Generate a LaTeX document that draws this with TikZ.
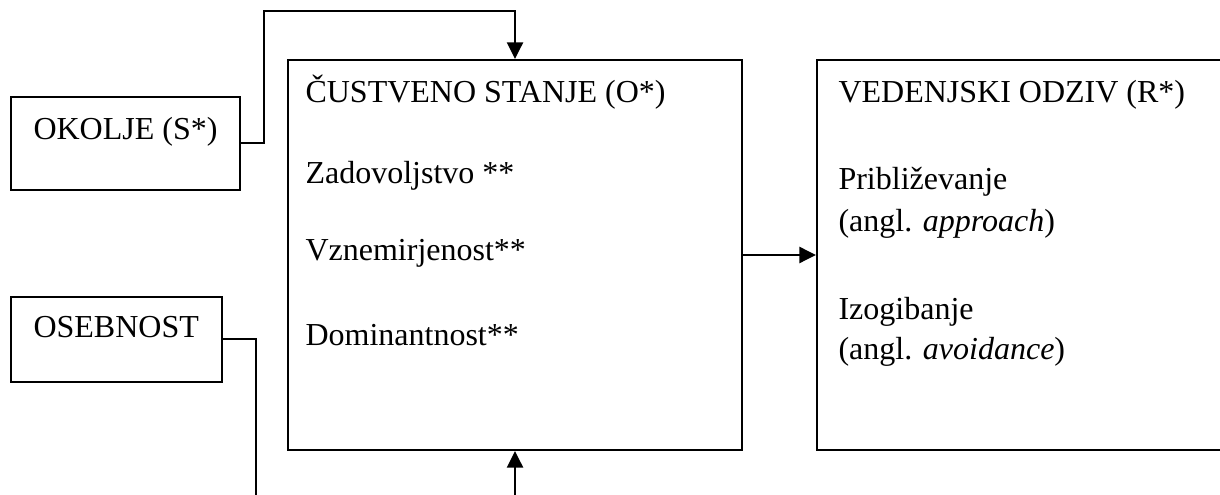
\documentclass[tikz,border=0pt]{standalone}
\usepackage{fontspec}
\setmainfont{Liberation Serif}
\usetikzlibrary{fit,arrows.meta}
\begin{document}
\begin{tikzpicture}[x=0.375pt,y=-0.375pt,
  box/.style={draw,line width=0.75pt,inner sep=0pt},
  txt/.style={anchor=base west,inner sep=0pt,font=\fontsize{12pt}{14pt}\selectfont},
  conn/.style={line width=0.75pt},
  arr/.style={line width=0.75pt,-{Triangle[length=6.2pt,width=6pt]}}]
\useasboundingbox (0,0) rectangle (1220,495);
\clip (0,0) rectangle (1220,495);
% boxes
\node[box,fit={(11,97) (240,190)}] (ok) {};
\node[box,fit={(11,297) (222,382)}] (os) {};
\node[box,fit={(288,60) (742,450)}] (cu) {};
\node[box,fit={(817,60) (1260,450)}] (ve) {};
% texts
\node[txt] (tok) at (33,140) {OKOLJE (S*)};
\node[txt] (tos) at (33,338) {OSEBNOST};
\node[txt] (tcu) at (305,103) {ČUSTVENO STANJE (O*)};
\node[txt] (tz) at (305,184) {Zadovoljstvo **};
\node[txt] (tv) at (305,261) {Vznemirjenost**};
\node[txt] (td) at (305,346) {Dominantnost**};
\node[txt] (tve) at (838,103) {VEDENJSKI ODZIV (R*)};
\node[txt] (tp) at (838,190) {Približevanje};
\node[txt] (ta) at (838,232) {(angl. \textit{approach})};
\node[txt] (ti) at (838,319) {Izogibanje};
\node[txt] (tav) at (838,360) {(angl. \textit{avoidance})};
% connector corners
\coordinate (k1) at (264,11);
\coordinate (k2) at (256,510);
\coordinate (k3) at (515,510);
% connectors
\draw[arr] (ok.east) -| (k1) -| (cu.north);
\draw[conn] (os.east) -| (k2);
\draw[arr] (k3) -- (cu.south);
\draw[arr] (cu.east) -- (ve.west);
\end{tikzpicture}
\end{document}
